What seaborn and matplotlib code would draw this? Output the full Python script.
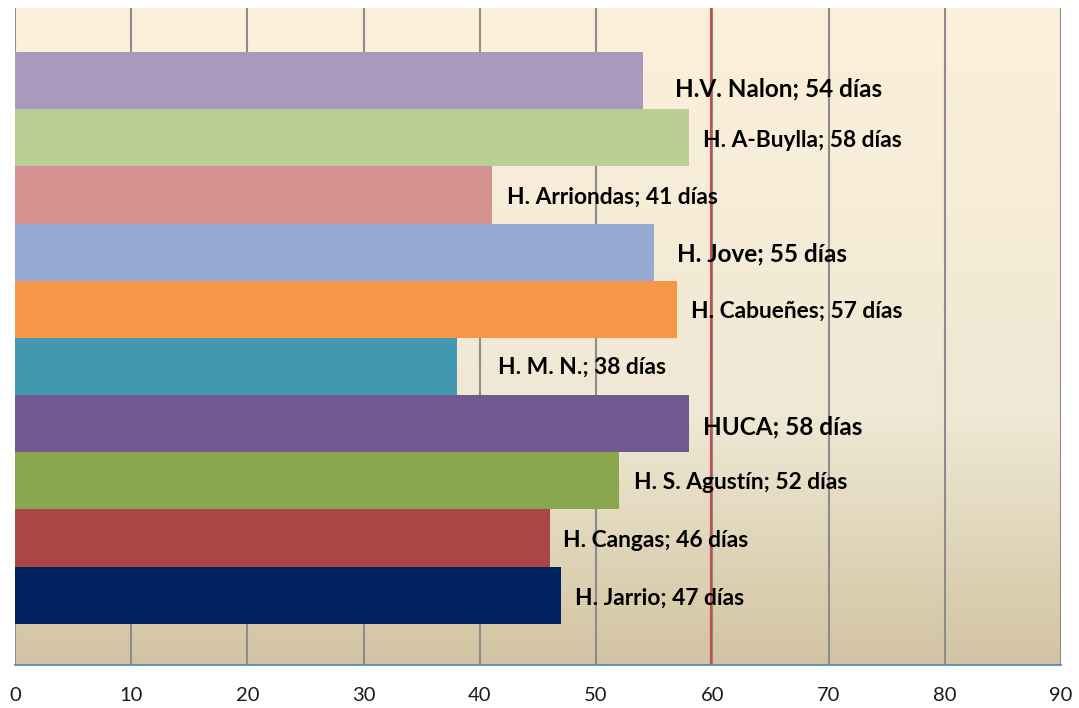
import numpy as np
import matplotlib
matplotlib.use("Agg")
import matplotlib.pyplot as plt
import seaborn as sns

# hospitals, top to bottom as in the chart
hospitals = ["H.V. Nalon", "H. A-Buylla", "H. Arriondas", "H. Jove", "H. Cabueñes",
             "H. M. N.", "HUCA", "H. S. Agustín", "H. Cangas", "H. Jarrio"]
dias = [54, 58, 41, 55, 57, 38, 58, 52, 46, 47]
colores = ["#A99ABD", "#BACF96", "#D49290", "#95A9D1", "#F79646",
           "#4398B0", "#71588F", "#8AA64F", "#AA4644", "#002060"]
ticks = [0, 10, 20, 30, 40, 50, 60, 70, 80, 90]
limite = 60

# label placement (pixels) and emphasis, set by hand like the original
dx = [32, 14, 15, 23, 14, 41, 14, 15, 13, 14]
dy = [-8, -3, -2, -2, -2, -1, -3, -2, -2, -3]
grande = [True, False, False, True, False, False, True, False, False, False]

sns.set_style("white")
plt.rcParams["font.family"] = ["Lato", "DejaVu Sans"]

fig = plt.figure(figsize=(10.79, 7.08), dpi=100)
ax = fig.add_axes([15 / 1079, 1 - 665 / 708, 1046 / 1079, 657 / 708])

# gradient background: cream at the top, pale in the middle, tan at the bottom
stops = [0.0, 0.62, 1.0]
cols = np.array([[0xFD, 0xF0, 0xDB], [0xEF, 0xE8, 0xD4], [0xD2, 0xC4, 0xA1]]) / 255
t = np.linspace(0, 1, 300)
grad = np.stack([np.interp(t, stops, cols[:, k]) for k in range(3)], axis=1)[:, None, :]
ax.imshow(grad, extent=[0, 1, 0, 1], transform=ax.transAxes, aspect="auto",
          origin="upper", zorder=0, interpolation="bilinear")

sns.barplot(x=dias, y=hospitals, hue=hospitals, palette=colores, width=1.0,
            orient="h", legend=False, saturation=1, linewidth=0, ax=ax, zorder=2)

ax.set_xlim(0, 90)
ax.set_ylim(9.5 + 0.72, -0.5 - 0.77)
ax.set_xticks(ticks)
ax.set_yticks([])
ax.set_xlabel("")
ax.set_ylabel("")

ax.set_axisbelow(True)
ax.grid(axis="x", color="#8C8C8C", lw=1.5)
ax.axvline(limite - 0.1, color="#C0504D", lw=1.6, zorder=1.5)

for s in ["top", "right", "left"]:
    ax.spines[s].set_visible(False)
ax.spines["bottom"].set_color("#4F81BD")
ax.spines["bottom"].set_linewidth(1.2)
ax.tick_params(axis="x", direction="out", length=6, width=1.2, color="#4F81BD",
               labelsize=14.5, labelcolor="#1a1a1a", pad=10)

for i, (h, v) in enumerate(zip(hospitals, dias)):
    ax.annotate(f"{h}; {v} días", xy=(v, i), xytext=(dx[i], dy[i]),
                textcoords="offset pixels", va="center", ha="left",
                fontsize=17.5 if grande[i] else 16.4, fontweight="bold",
                color="black", zorder=3)

fig.savefig("out.png", dpi=100)
